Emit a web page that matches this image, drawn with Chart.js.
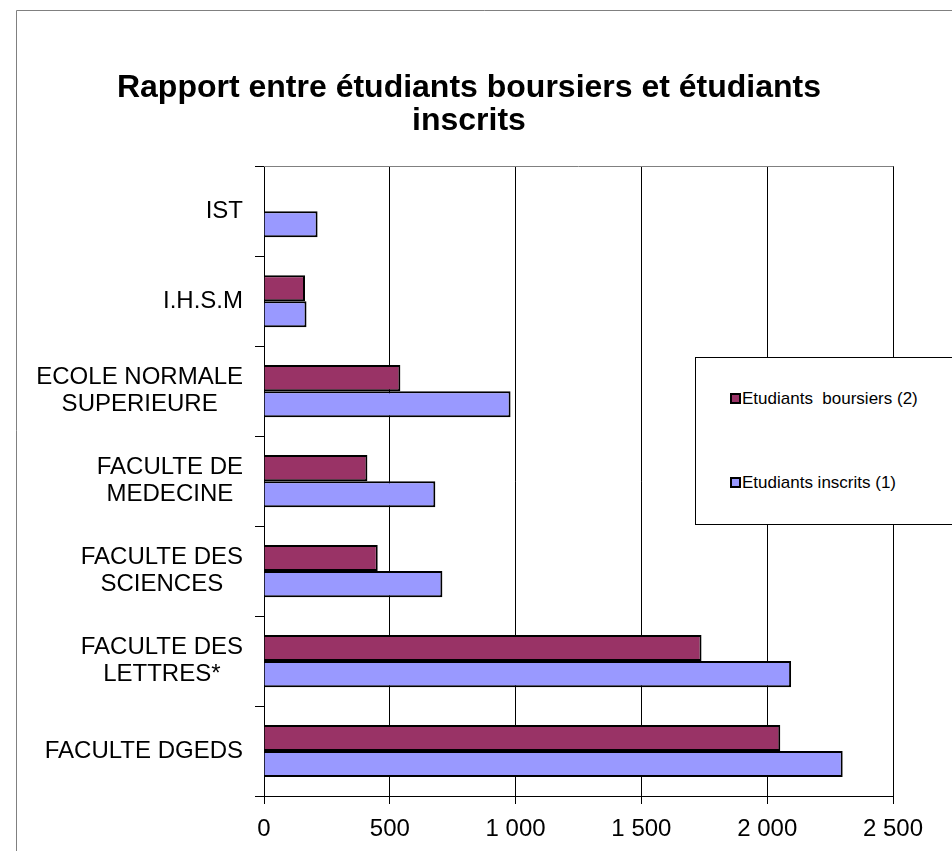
<!DOCTYPE html>
<html lang="fr">
<head>
<meta charset="UTF-8">
<title>Rapport entre étudiants boursiers et étudiants inscrits</title>
<script src="https://cdn.jsdelivr.net/npm/chart.js"></script>
<style>
body {
    margin: 0;
    padding: 0;
    background: #fff;
    font-family: "Liberation Sans", Arial, sans-serif;
}
#wrap {
    position: relative;
    width: 952px;
    height: 851px;
    overflow: hidden;
}
#legend {
    position: absolute;
    left: 695px;
    top: 357px;
    width: 270px;
    height: 166px;
    border: 1px solid #000;
    background: #fff;
}
.item {
    position: absolute;
    left: 34px;
    font-size: 17px;
    line-height: 20px;
    white-space: pre;
    color: #000;
}
.item span.box {
    display: inline-block;
    width: 7px;
    height: 7px;
    border: 2px solid #000;
    margin-right: 1px;
    vertical-align: 0px;
}
</style>
</head>
<body>
<div id="wrap">
    <canvas id="chart" width="952" height="851"></canvas>
    <div id="legend"></div>
</div>
<script>
// categories, top to bottom
const categories = [
    ['IST'],
    ['I.H.S.M'],
    ['ECOLE NORMALE', 'SUPERIEURE'],
    ['FACULTE DE', 'MEDECINE'],
    ['FACULTE DES', 'SCIENCES'],
    ['FACULTE DES', 'LETTRES*'],
    ['FACULTE DGEDS']
];
const boursiers = [null, 163, 542, 411, 452, 1739, 2052];
const inscrits = [213, 169, 980, 681, 709, 2095, 2300];
const seriesNames = ['Etudiants  boursiers (2)', 'Etudiants inscrits (1)'];
const seriesColors = ['#993366', '#9999FF'];
const xTicks = [0, 500, 1000, 1500, 2000, 2500];

const font = '"Liberation Sans", Arial, sans-serif';

// outer frame + plot top border
const framePlugin = {
    id: 'frame',
    beforeDraw(chart) {
        const ctx = chart.ctx;
        ctx.save();
        ctx.fillStyle = '#fff';
        ctx.fillRect(0, 0, chart.width, chart.height);
        ctx.strokeStyle = '#808080';
        ctx.lineWidth = 1;
        ctx.beginPath();
        ctx.moveTo(16.5, chart.height);
        ctx.lineTo(16.5, 10.5);
        ctx.lineTo(chart.width, 10.5);
        ctx.stroke();
        ctx.restore();
    },
    afterDraw(chart) {
        const a = chart.chartArea;
        const ctx = chart.ctx;
        ctx.save();
        ctx.strokeStyle = '#808080';
        ctx.lineWidth = 1;
        ctx.beginPath();
        ctx.moveTo(a.left, Math.round(a.top) + 0.5);
        ctx.lineTo(a.right, Math.round(a.top) + 0.5);
        ctx.stroke();
        ctx.restore();
    }
};

// category labels: block right-aligned at the axis, lines centred on each other (as in Excel)
const catLabelPlugin = {
    id: 'catLabels',
    afterDraw(chart) {
        const y = chart.scales.y;
        const ctx = chart.ctx;
        ctx.save();
        ctx.font = '24px ' + font;
        ctx.fillStyle = '#000';
        ctx.textAlign = 'center';
        ctx.textBaseline = 'middle';
        const lineH = 27;
        chart.data.labels.forEach((lines, i) => {
            const w = Math.max(...lines.map(l => ctx.measureText(l).width));
            const cx = y.right - 9 - 12 - w / 2;
            const cy = y.getPixelForTick(i);
            lines.forEach((l, j) => {
                ctx.fillText(l, cx, cy + (j - (lines.length - 1) / 2) * lineH);
            });
        });
        ctx.restore();
    }
};

const chart = new Chart(document.getElementById('chart'), {
    type: 'bar',
    data: {
        labels: categories,
        datasets: [
            {
                label: seriesNames[0],
                data: boursiers,
                backgroundColor: seriesColors[0],
                borderColor: '#000',
                borderWidth: 2
            },
            {
                label: seriesNames[1],
                data: inscrits,
                backgroundColor: seriesColors[1],
                borderColor: '#000',
                borderWidth: 2
            }
        ]
    },
    options: {
        indexAxis: 'y',
        responsive: false,
        animation: false,
        devicePixelRatio: 1,
        categoryPercentage: 0.58,
        barPercentage: 1,
        layout: { padding: { left: 45, right: 59, top: 0, bottom: 0 } },
        plugins: {
            legend: { display: false },
            tooltip: { enabled: false },
            title: {
                display: true,
                text: ['Rapport entre étudiants boursiers et étudiants', 'inscrits'],
                color: '#000',
                font: { family: font, size: 32, weight: 'bold', lineHeight: 1.02 },
                padding: { top: 72, bottom: 29 }
            }
        },
        scales: {
            x: {
                min: 0,
                max: 2500,
                afterBuildTicks: scale => {
                    scale.ticks = xTicks.map(v => ({ value: v }));
                },
                afterFit: scale => { scale.height = 55; },
                grid: {
                    color: '#000',
                    lineWidth: 1,
                    tickLength: 8
                },
                border: { color: '#000', width: 1 },
                ticks: {
                    color: '#000',
                    padding: 11,
                    maxRotation: 0,
                    font: { family: font, size: 24 },
                    callback: v => String(v).replace(/\B(?=(\d{3})+(?!\d))/g, ' ')
                }
            },
            y: {
                afterFit: scale => { scale.width = 219; },
                grid: {
                    drawOnChartArea: false,
                    color: '#000',
                    tickLength: 9,
                    offset: true
                },
                border: { color: '#000', width: 1 },
                ticks: { display: false }
            }
        }
    },
    plugins: [framePlugin, catLabelPlugin]
});

// legend box built from the datasets
const legend = document.getElementById('legend');
const itemTops = [31, 115];
chart.data.datasets.forEach((ds, i) => {
    const item = document.createElement('div');
    item.className = 'item';
    item.style.top = itemTops[i] + 'px';
    const box = document.createElement('span');
    box.className = 'box';
    box.style.background = ds.backgroundColor;
    item.appendChild(box);
    item.appendChild(document.createTextNode(ds.label));
    legend.appendChild(item);
});
</script>
</body>
</html>
